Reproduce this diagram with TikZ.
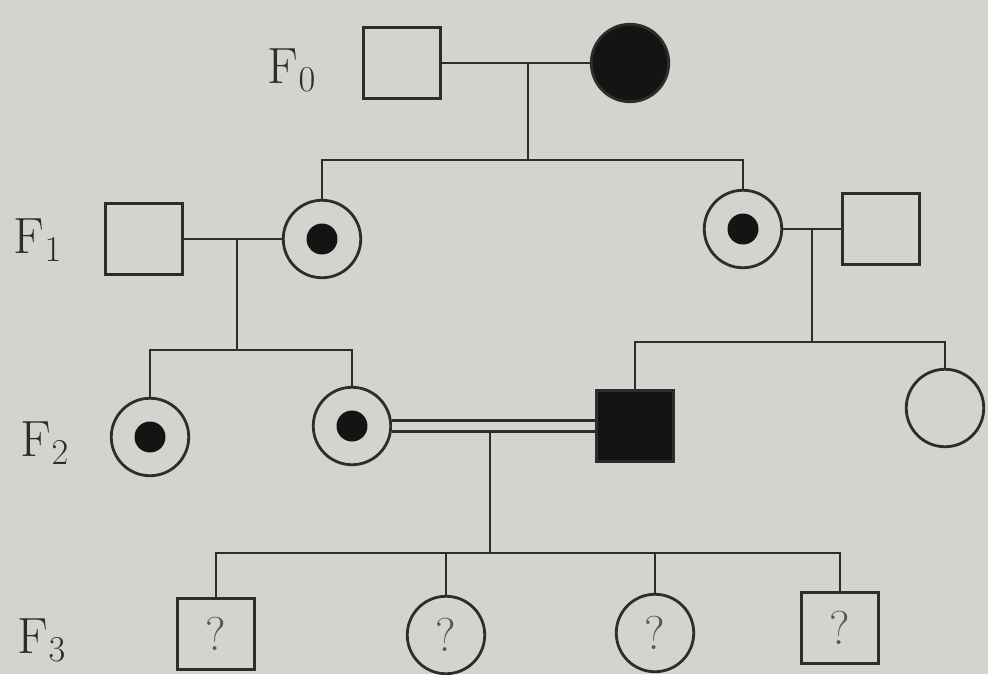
\documentclass[tikz,border=0pt]{standalone}
\usetikzlibrary{positioning}
\definecolor{paper}{RGB}{212,212,207}
\definecolor{ink}{RGB}{45,45,45}
\tikzset{
  person/.style={draw=ink, line width=1.6pt, inner sep=0pt},
  male/.style={person, rectangle, minimum width=1.55cm, minimum height=1.42cm},
  female/.style={person, circle, minimum size=1.55cm},
  affected/.style={fill=black!92},
  carrier/.style={female, path picture={\fill[black!92] (path picture bounding box.center) circle (0.31cm);}},
  unknown/.style={font=\fontsize{27}{29}\selectfont, text=ink!80},
  gen/.style={font=\fontsize{29}{32}\selectfont, text=ink},
  link/.style={draw=ink, line width=1.5pt}
}
\begin{document}
\begin{tikzpicture}[x=0.02cm, y=-0.02cm]
    % Paper
    \fill[paper] (0, 0) rectangle (988, 674);
    \useasboundingbox (0, 0) rectangle (988, 674);

    % Generation labels
    \node[gen] (G0) at (292, 70) {F$_0$};
    \node[gen] (G1) at (38, 240) {F$_1$};
    \node[gen] (G2) at (45, 443) {F$_2$};
    \node[gen] (G3) at (42, 640) {F$_3$};

    % F0
    \node[male] (A1) at (402, 63) {};
    \node[female, affected] (A2) at (630, 63) {};

    % F1
    \node[male] (B1) at (144, 239) {};
    \node[carrier] (B2) at (322, 239) {};
    \node[carrier] (B3) at (743, 229) {};
    \node[male] (B4) at (881, 229) {};

    % F2
    \node[carrier] (C1) at (150, 437) {};
    \node[carrier] (C2) at (352, 426) {};
    \node[male, affected] (C3) at (635, 426) {};
    \node[female] (C4) at (945, 408) {};

    % F3
    \node[male] (D1) at (216, 634) {};
    \node[unknown] at (D1) {?};
    \node[female] (D2) at (446, 635) {};
    \node[unknown] at (D2) {?};
    \node[female] (D3) at (655, 633) {};
    \node[unknown] at (D3) {?};
    \node[male] (D4) at (840, 628) {};
    \node[unknown] at (D4) {?};

    % Marriage and sibship points
    \coordinate (M0) at (528, 63);
    \coordinate (S0) at (528, 160);
    \coordinate (M1) at (237, 239);
    \coordinate (S1) at (237, 350);
    \coordinate (M2) at (812, 229);
    \coordinate (S2) at (812, 342);
    \coordinate (M3) at (490, 431);
    \coordinate (S3) at (490, 553);

    % F0 family
    \draw[link] (A1) -- (A2);
    \draw[link] (M0) -- (S0);
    \draw[link] (B2.north) |- (S0) -| (B3.north);

    % F1 families
    \draw[link] (B1) -- (B2);
    \draw[link] (M1) -- (S1);
    \draw[link] (C1.north) |- (S1) -| (C2.north);
    \draw[link] (B3) -- (B4);
    \draw[link] (M2) -- (S2);
    \draw[link] (C3.north) |- (S2) -| (C4.north);

    % Consanguineous marriage
    \draw[draw=ink, line width=1.5pt, double=paper, double distance=0.16cm] (C2.east) -- (C3.west);
    \draw[link] (M3) -- (S3);
    \draw[link] (D1.north) |- (S3) -| (D4.north);
    \draw[link] (D2.north) -- (D2.north |- S3);
    \draw[link] (D3.north) -- (D3.north |- S3);
\end{tikzpicture}
\end{document}
